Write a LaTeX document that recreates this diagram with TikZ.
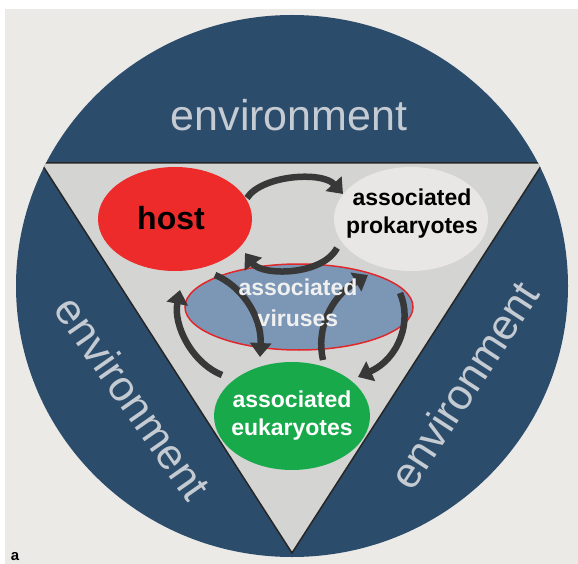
\documentclass[tikz,border=0pt]{standalone}
\usepackage{fontspec}
\setmainfont{Liberation Sans}
\usetikzlibrary{shapes.geometric,arrows.meta}
\definecolor{bg}{HTML}{ECEAE7}
\definecolor{navy}{HTML}{2C4C6C}
\definecolor{trigrey}{HTML}{D4D4D3}
\definecolor{hostred}{HTML}{EE2B2B}
\definecolor{prokgrey}{HTML}{E8E7E5}
\definecolor{virblue}{HTML}{7C97B6}
\definecolor{virred}{HTML}{E0282A}
\definecolor{eukgreen}{HTML}{18A94B}
\definecolor{envtext}{HTML}{C5CBD2}
\definecolor{arrowgrey}{HTML}{383838}
\begin{document}
\begin{tikzpicture}[x=1pt,y=-1pt,
  blob/.style={ellipse, inner sep=0pt, draw=none},
  lbl/.style={font=\fontsize{23}{28}\selectfont\bfseries, align=center, inner sep=0pt},
  envlbl/.style={font=\fontsize{43}{43}\selectfont, text=envtext, inner sep=0pt},
  cyc/.style={draw=arrowgrey, line width=6.5pt, -{Triangle[length=14pt,width=21pt]}}]
\useasboundingbox (0,0) rectangle (578,564);
\fill[white] (0,0) rectangle (578,564);
\fill[bg] (5,9) rectangle (578,564);
\fill[navy] (292,286) ellipse [x radius=276, y radius=271];
\begin{scope}
\clip (292,286) ellipse [x radius=276, y radius=271];
\draw[fill=trigrey, line width=1.5pt, draw=black!85] (41,163) -- (543,163) -- (292,553) -- cycle;
\end{scope}
% environment labels
\node[envlbl] (envtop) at (289,115) {environment};
\node[envlbl, rotate=-55] (envleft) at (133,398) {environment};
\node[envlbl, rotate=57] (envright) at (464,385) {environment};
% ellipses
\node[blob, fill=hostred, minimum width=154pt, minimum height=104pt] (host) at (175,219) {};
\node[blob, fill=prokgrey, minimum width=154pt, minimum height=104pt] (prok) at (411,219) {};
\node[blob, fill=virblue, draw=virred, line width=1.5pt, minimum width=228pt, minimum height=86pt] (vir) at (299,307) {};
\node[blob, fill=eukgreen, minimum width=156pt, minimum height=108pt] (euk) at (292,416) {};
% arrows
\coordinate (a1s) at (247,198); \coordinate (a1e) at (343,194);
\coordinate (a2s) at (337,248); \coordinate (a2e) at (245,253);
\coordinate (a3s) at (215,275); \coordinate (a3e) at (260,357);
\coordinate (a4s) at (222,375); \coordinate (a4e) at (180,290);
\coordinate (a5s) at (323,360); \coordinate (a5e) at (368,275);
\coordinate (a6s) at (400,293); \coordinate (a6e) at (358,377);
\draw[cyc] (a1s) .. controls (262,175) and (322,171) .. (a1e);
\draw[cyc] (a2s) .. controls (322,276) and (262,276) .. (a2e);
\draw[cyc] (a3s) .. controls (240,285) and (262,315) .. (a3e);
\draw[cyc] (a4s) .. controls (192,363) and (173,325) .. (a4e);
\draw[cyc] (a5s) .. controls (316,330) and (330,297) .. (a5e);
\draw[cyc] (a6s) .. controls (412,320) and (400,358) .. (a6e);
% labels
\node[lbl, font=\fontsize{32}{32}\selectfont\bfseries, text=black] (hostt) at (171,218.5) {host};
\node[lbl, text=black] (prokt) at (412,214) {associated\\prokaryotes};
\node[lbl, text=white!94!black, font=\fontsize{23}{31}\selectfont\bfseries] (virt) at (298,303) {associated\\viruses};
\node[lbl, text=white] (eukt) at (292,416) {associated\\eukaryotes};
\node[font=\fontsize{15}{15}\selectfont\bfseries, anchor=base, inner sep=0pt] (alabel) at (15,560) {a};
\end{tikzpicture}
\end{document}
